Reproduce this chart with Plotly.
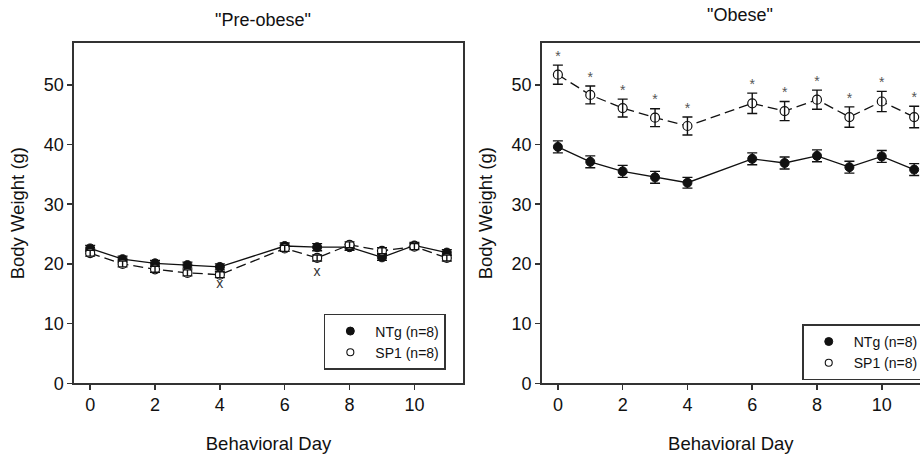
import plotly.graph_objects as go

days = [0, 1, 2, 3, 4, 6, 7, 8, 9, 10, 11]

# Pre-obese
pre_ntg = [22.6, 20.8, 20.1, 19.8, 19.5, 23.0, 22.8, 22.8, 21.1, 23.1, 21.9]
pre_ntg_err = [0.5, 0.5, 0.5, 0.5, 0.5, 0.5, 0.6, 0.5, 0.5, 0.5, 0.5]
pre_sp1 = [21.8, 20.0, 19.1, 18.5, 18.2, 22.6, 21.0, 23.2, 22.2, 22.9, 21.0]
pre_sp1_err = [0.5, 0.5, 0.5, 0.5, 0.5, 0.5, 0.5, 0.5, 0.5, 0.5, 0.5]
pre_xmark_days = [4, 7]
pre_xmark_y = [16.5, 18.5]

# Obese
ob_ntg = [39.6, 37.1, 35.5, 34.5, 33.6, 37.6, 36.9, 38.1, 36.2, 38.0, 35.8]
ob_ntg_err = [1.0, 1.0, 1.0, 1.0, 0.9, 1.0, 1.0, 1.0, 1.0, 1.0, 1.0]
ob_sp1 = [51.7, 48.3, 46.1, 44.5, 43.1, 46.9, 45.6, 47.5, 44.6, 47.2, 44.6]
ob_sp1_err = [1.6, 1.5, 1.5, 1.5, 1.5, 1.7, 1.6, 1.6, 1.7, 1.7, 1.8]

x_ticks = [0, 2, 4, 6, 8, 10]
y_ticks = [0, 10, 20, 30, 40, 50]

FONT = "Liberation Sans, Arial, sans-serif"
INK = "#111111"
AX = "#333333"

fig = go.Figure()


def add_panel(xa, ya, ntg, ntg_err, sp1, sp1_err, legend):
    fig.add_trace(go.Scatter(x=days, y=ntg, mode="lines", xaxis=xa, yaxis=ya,
                             line=dict(color=INK, width=1.3), showlegend=False,
                             hoverinfo="skip"))
    fig.add_trace(go.Scatter(x=days, y=sp1, mode="lines", xaxis=xa, yaxis=ya,
                             line=dict(color=INK, width=1.3, dash="10px,5px"),
                             showlegend=False, hoverinfo="skip"))
    fig.add_trace(go.Scatter(x=days, y=ntg, mode="markers", xaxis=xa, yaxis=ya,
                             showlegend=False,
                             marker=dict(symbol="circle", size=9, color=INK,
                                         line=dict(color=INK, width=1)),
                             error_y=dict(type="data", array=ntg_err, visible=True,
                                          color=INK, thickness=1.4, width=5)))
    fig.add_trace(go.Scatter(x=days, y=sp1, mode="markers", xaxis=xa, yaxis=ya,
                             showlegend=False,
                             marker=dict(symbol="circle", size=9, color="white",
                                         line=dict(color=INK, width=1.2))))
    fig.add_trace(go.Scatter(x=days, y=sp1, mode="markers", xaxis=xa, yaxis=ya,
                             showlegend=False, hoverinfo="skip",
                             marker=dict(size=1, color="rgba(0,0,0,0)"),
                             error_y=dict(type="data", array=sp1_err, visible=True,
                                          color=INK, thickness=1.4, width=5)))
    fig.add_trace(go.Scatter(x=[None], y=[None], mode="markers", xaxis=xa, yaxis=ya,
                             name="NTg (n=8)", legend=legend,
                             marker=dict(symbol="circle", size=8, color=INK,
                                         line=dict(color=INK, width=1))))
    fig.add_trace(go.Scatter(x=[None], y=[None], mode="markers", xaxis=xa, yaxis=ya,
                             name="SP1 (n=8)", legend=legend,
                             marker=dict(symbol="circle", size=7, color="white",
                                         line=dict(color=INK, width=1.1))))


add_panel("x", "y", pre_ntg, pre_ntg_err, pre_sp1, pre_sp1_err, "legend")
add_panel("x2", "y2", ob_ntg, ob_ntg_err, ob_sp1, ob_sp1_err, "legend2")

fig.add_trace(go.Scatter(x=pre_xmark_days, y=pre_xmark_y, mode="text",
                         text=["x"] * len(pre_xmark_days),
                         xaxis="x", yaxis="y", showlegend=False, hoverinfo="skip",
                         textfont=dict(family=FONT, size=14, color="#333333")))
star_y = [v + e + 1.3 for v, e in zip(ob_sp1, ob_sp1_err)]
fig.add_trace(go.Scatter(x=days, y=star_y, mode="text", text=["*"] * len(days),
                         xaxis="x2", yaxis="y2", showlegend=False, hoverinfo="skip",
                         textfont=dict(family=FONT, size=14, color="#555555")))

axis_common = dict(showline=True, linecolor=AX, linewidth=1.5, ticks="outside",
                   ticklen=5, tickcolor=AX, tickwidth=1.5, showgrid=False,
                   zeroline=False, automargin=False,
                   tickfont=dict(family=FONT, size=18, color=INK))

Y_DOM = [0.1575, 0.9055]
XT = dict(text="Behavioral Day", standoff=22, font=dict(family=FONT, size=18.5, color=INK))
YT = dict(text="Body Weight (g)", standoff=14, font=dict(family=FONT, size=18.5, color=INK))
LEG = dict(bordercolor=AX, borderwidth=1.5, bgcolor="white",
           font=dict(family=FONT, size=14, color=INK),
           itemsizing="trace", itemwidth=40, tracegroupgap=0,
           xanchor="left", yanchor="top")

fig.update_layout(
    width=920, height=455,
    margin=dict(l=0, r=0, t=0, b=0, autoexpand=False),
    paper_bgcolor="white", plot_bgcolor="white",
    font=dict(family=FONT, color=INK),
    xaxis=dict(domain=[0.0804, 0.5033], range=[-0.5, 11.5], tickvals=x_ticks,
               mirror=True, title=XT, **axis_common),
    yaxis=dict(domain=Y_DOM, range=[0, 57], tickvals=y_ticks, mirror=True,
               title=YT, **axis_common),
    xaxis2=dict(domain=[0.5888, 1.0], range=[-0.5, 11.18], tickvals=x_ticks,
                anchor="y2", mirror=True, title=XT, **axis_common),
    yaxis2=dict(domain=Y_DOM, range=[0, 57], tickvals=y_ticks, anchor="x2",
                mirror=False, title=YT, **axis_common),
    legend=dict(x=0.352, y=0.31, **LEG),
    legend2=dict(x=0.872, y=0.287, **LEG),
    annotations=[
        dict(text='"Pre-obese"', x=263 / 920, y=1 - 20 / 455, xref="paper", yref="paper",
             showarrow=False, xanchor="center", yanchor="middle",
             font=dict(family=FONT, size=18, color=INK)),
        dict(text='"Obese"', x=740 / 920, y=1 - 15 / 455, xref="paper", yref="paper",
             showarrow=False, xanchor="center", yanchor="middle",
             font=dict(family=FONT, size=18, color=INK)),
    ],
)

fig.write_html("out.html", config={"displayModeBar": False, "staticPlot": True},
               post_script="document.body.style.margin='0';document.body.style.overflow='hidden';")
